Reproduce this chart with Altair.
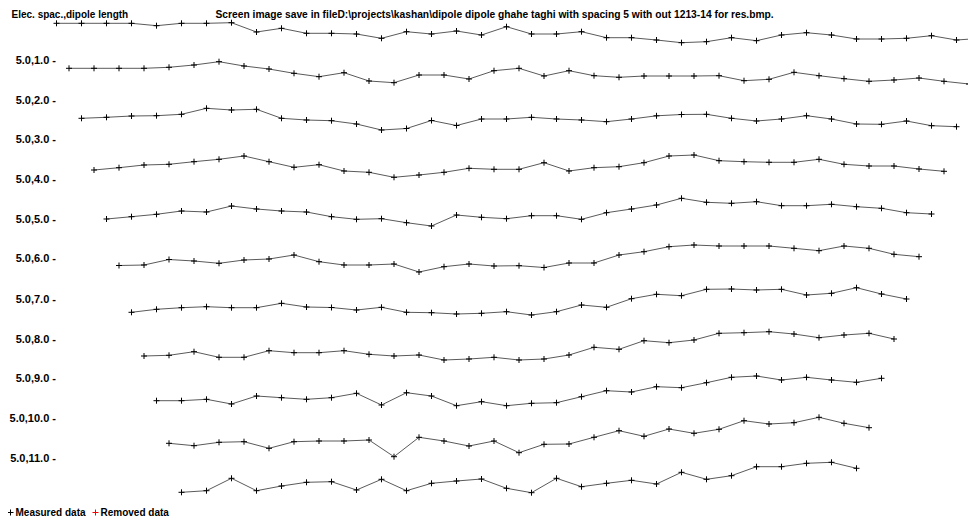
import altair as alt
import pandas as pd

FONT = "Liberation Sans"

# apparent-resistivity profiles, one per dipole separation level (read in plot units)
LINE_0 = [23.3, 23.3, 23.3, 23.3, 25.7, 23.3, 23.3, 22.7, 32.0, 28.3, 33.3, 33.3, 34.0, 38.3, 31.7, 34.0, 31.0, 35.0, 26.7, 34.0,
          34.0, 31.7, 37.7, 37.7, 40.0, 42.7, 41.7, 37.7, 40.7, 35.0, 32.7, 35.0, 39.0, 39.0, 38.3, 35.7, 40.0, 38.3]
LINE_1 = [68.3, 68.3, 68.3, 68.3, 67.3, 65.0, 61.7, 66.0, 69.0, 73.3, 76.7, 72.7, 81.0, 82.7, 75.0, 75.0, 79.0, 70.7, 68.3, 76.0,
          70.7, 75.7, 77.3, 76.0, 76.0, 76.0, 75.7, 80.7, 79.3, 72.3, 75.7, 78.7, 81.3, 80.0, 78.0, 81.3, 84.0]
LINE_2 = [118.3, 117.3, 116.0, 115.7, 114.3, 108.3, 110.0, 109.3, 118.3, 120.0, 120.7, 124.0, 130.0, 128.5, 120.5, 125.5, 119.0,
          119.0, 117.3, 119.0, 120.0, 121.7, 119.0, 115.8, 114.5, 114.3, 118.3, 121.0, 119.0, 115.7, 119.0, 124.0, 124.3, 121.0,
          125.7, 126.7]
LINE_3 = [170.0, 167.7, 165.0, 164.3, 161.7, 159.3, 156.0, 161.7, 167.3, 164.7, 171.0, 172.3, 177.3, 175.0, 172.3, 168.3, 169.3,
          169.3, 162.7, 171.0, 167.7, 166.7, 162.7, 156.0, 155.0, 160.7, 161.7, 162.3, 162.3, 159.3, 164.3, 166.0, 166.0, 169.0,
          171.3]
LINE_4 = [219.0, 216.7, 214.3, 211.0, 212.0, 206.0, 209.0, 211.0, 212.0, 216.7, 219.3, 218.7, 222.7, 226.0, 215.0, 217.3, 218.7,
          215.7, 215.7, 219.3, 212.7, 209.0, 205.0, 198.3, 202.3, 203.3, 201.7, 205.7, 205.7, 204.3, 206.7, 208.3, 212.7, 214.0]
LINE_5 = [265.5, 265.0, 259.5, 261.0, 263.3, 260.0, 259.0, 255.0, 261.7, 265.0, 265.0, 264.0, 272.0, 266.7, 264.0, 266.0, 265.7,
          267.5, 263.0, 263.0, 255.0, 251.7, 246.7, 245.0, 246.0, 246.0, 246.0, 248.3, 250.7, 246.0, 248.3, 254.3, 256.7]
LINE_6 = [312.3, 309.3, 307.7, 306.7, 307.7, 307.7, 303.3, 307.0, 307.5, 310.0, 307.3, 312.3, 312.7, 314.0, 313.3, 311.7, 315.0,
          311.7, 305.0, 307.3, 298.7, 294.3, 295.7, 289.3, 289.0, 290.0, 289.3, 295.0, 293.3, 287.7, 294.0, 299.0]
LINE_7 = [356.0, 355.3, 351.7, 357.3, 357.3, 350.7, 352.7, 352.7, 350.7, 354.3, 356.0, 355.0, 360.0, 359.0, 357.3, 360.0, 359.0,
          355.0, 347.3, 349.3, 340.7, 342.7, 340.0, 333.3, 332.7, 331.7, 334.0, 337.7, 335.0, 333.3, 339.0]
LINE_8 = [400.7, 400.7, 399.3, 404.0, 396.0, 397.7, 399.3, 397.7, 393.3, 405.0, 392.7, 396.0, 405.7, 401.7, 405.7, 403.3, 402.7,
          396.7, 390.7, 392.0, 386.7, 387.7, 382.7, 377.3, 376.0, 380.0, 377.3, 380.0, 382.3, 378.3]
LINE_9 = [443.3, 445.7, 442.3, 441.7, 448.3, 441.7, 441.0, 441.0, 440.0, 456.7, 437.3, 441.0, 446.0, 441.0, 452.7, 444.3, 444.0,
          437.3, 430.7, 436.3, 429.0, 433.3, 429.3, 420.7, 424.0, 422.7, 417.3, 423.3, 427.7]
LINE_10 = [492.3, 490.7, 478.3, 490.7, 486.0, 482.3, 481.7, 490.0, 479.3, 490.7, 483.3, 481.0, 479.0, 488.3, 492.7, 478.3, 486.7,
           483.3, 480.3, 484.0, 472.3, 479.3, 475.7, 466.7, 466.7, 463.3, 462.3, 468.3]
LINES = [LINE_0, LINE_1, LINE_2, LINE_3, LINE_4, LINE_5, LINE_6, LINE_7, LINE_8, LINE_9, LINE_10]

SPACING = 5.0  # electrode spacing (m)

LEVEL_TICKS = [60, 100, 139.3, 179, 219, 258.7, 299, 339, 378.3, 418.3, 458.3]
LEVEL_LABELS = ["5.0,1.0 -", "5.0,2.0 -", "5.0,3.0 -", "5.0,4.0 -", "5.0,5.0 -", "5.0,6.0 -",
                "5.0,7.0 -", "5.0,8.0 -", "5.0,9.0 -", "5.0,10.0 -", "5.0,11.0 -"]

Y_TITLE = "Elec. spac.,dipole length"
TOP_TITLE = ("Screen image save in fileD:\\projects\\kashan\\dipole dipole ghahe taghi with spacing 5 "
             "with out 1213-14 for res.bmp.")
STATUS = ["Measured data", "Removed data"]
STATUS_COLORS = ["#000000", "#ff0000"]

rows = []
for n, vals in enumerate(LINES):
    for k, v in enumerate(vals):
        rows.append({"level": n, "station": SPACING * (k + n / 2), "value": v, "status": STATUS[0]})
df = pd.DataFrame(rows)

CROSS = "M-1,0H1M0,-1V1"

label_expr = "{}[indexof({}, datum.value)]".format(
    "[" + ",".join("'" + s + "'" for s in LEVEL_LABELS) + "]",
    "[" + ",".join(str(t) for t in LEVEL_TICKS) + "]",
)

x_enc = alt.X(
    "station:Q",
    scale=alt.Scale(domain=[-9.7, 182.3], nice=False, zero=False),
    axis=alt.Axis(orient="top", title=TOP_TITLE, labels=False, ticks=False, domain=False, grid=False,
                  titleX=207, titleY=9.3, titleAlign="left", titleBaseline="alphabetic", titleAngle=0,
                  titleFont=FONT, titleFontSize=10.25, titleFontWeight="bold", titleColor="#000000",
                  titlePadding=0),
)
y_enc = alt.Y(
    "value:Q",
    scale=alt.Scale(domain=[8, 517], reverse=True, nice=False, zero=False),
    axis=alt.Axis(values=LEVEL_TICKS, labelExpr=label_expr, offset=-47.5, ticks=False, tickSize=0,
                  domain=False, grid=False, labelPadding=0, labelFont=FONT, labelFontSize=11,
                  labelFontWeight="bold", labelColor="#000000", labelAlign="right", labelBaseline="middle",
                  labelOverlap=False,
                  title=Y_TITLE, titleAngle=0, titleX=-44.5, titleY=9.3, titleAlign="left",
                  titleBaseline="alphabetic", titleFont=FONT, titleFontSize=10, titleFontWeight="bold",
                  titleColor="#000000"),
)

base = alt.Chart(df)

lines = base.mark_line(color="#5a5a5a", strokeWidth=1, clip=True).encode(
    x=x_enc, y=y_enc, detail="level:N"
)

points = base.mark_point(shape=CROSS, filled=False, size=36, strokeWidth=1, opacity=1, clip=True).encode(
    x=x_enc,
    y=y_enc,
    color=alt.Color(
        "status:N",
        scale=alt.Scale(domain=STATUS, range=STATUS_COLORS),
        legend=alt.Legend(orient="none", legendX=-2.5, legendY=499.5, direction="horizontal", columns=2,
                          title=None, symbolType=CROSS, symbolSize=36, symbolStrokeWidth=1,
                          symbolFillColor="transparent", labelFont=FONT, labelFontSize=10,
                          labelFontWeight="bold", labelColor="#000000", labelOffset=0,
                          columnPadding=4, padding=0, symbolOffset=0),
    ),
)

chart = (
    alt.layer(lines, points)
    .properties(width=960, height=509, padding=0, autosize=alt.AutoSizeParams(type="none"),
                background="#ffffff")
    .configure_view(strokeWidth=0)
)

chart.save("out.html", embed_options={"renderer": "svg", "actions": False})
